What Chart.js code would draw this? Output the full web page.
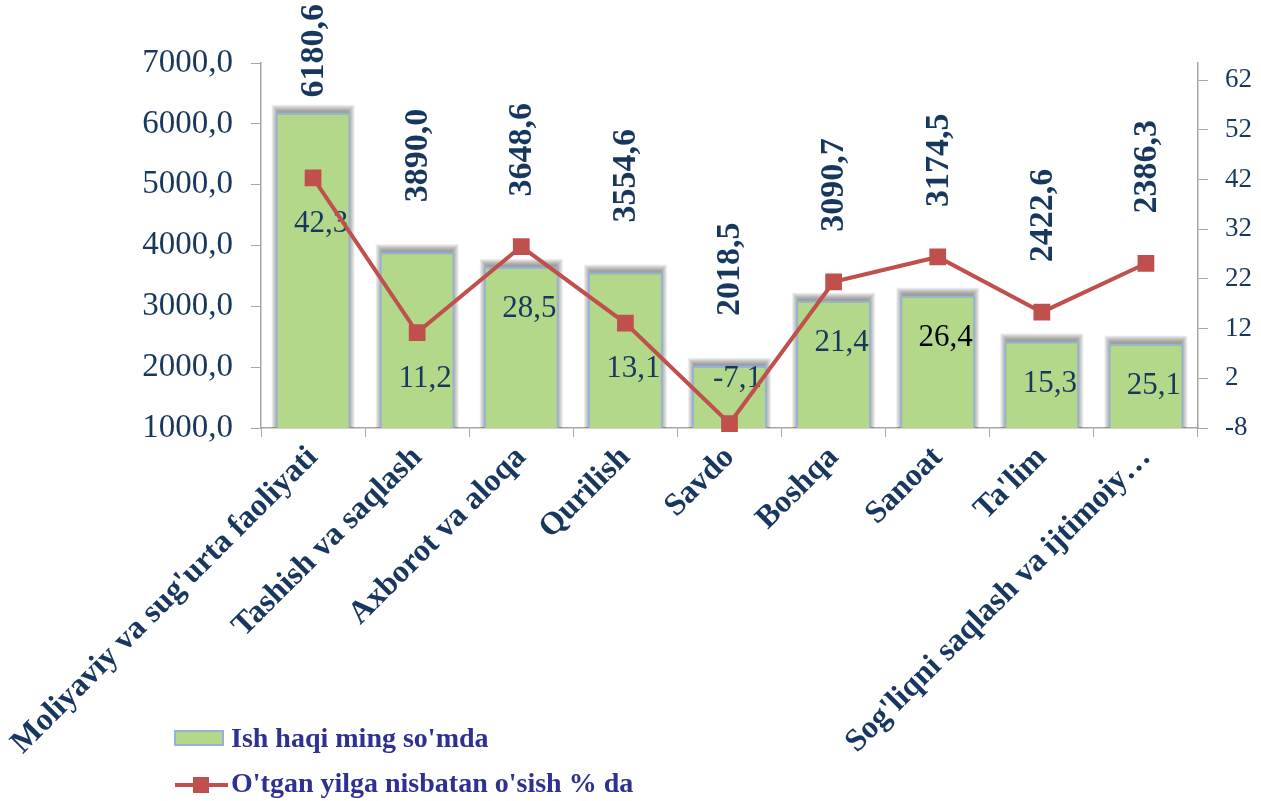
<!DOCTYPE html>
<html>
<head>
<meta charset="utf-8">
<script src="https://cdn.jsdelivr.net/npm/chart.js@4/dist/chart.umd.min.js"></script>
<style>
  html, body { margin: 0; padding: 0; background: #fff; }
  #wrap { width: 1261px; height: 801px; position: relative; }
</style>
</head>
<body>
<div id="wrap"><canvas id="wageChart"></canvas></div>
<script>
// wage by sector (bars, left axis) + growth vs last year (line, right axis)
const categories = [
  "Moliyaviy va sug'urta faoliyati",
  "Tashish va saqlash",
  "Axborot va aloqa",
  "Qurilish",
  "Savdo",
  "Boshqa",
  "Sanoat",
  "Ta'lim",
  "Sog'liqni saqlash va ijtimoiy…"
];
const wages = [6180.6, 3890.0, 3648.6, 3554.6, 2018.5, 3090.7, 3174.5, 2422.6, 2386.3];
const growth = [42.3, 11.2, 28.5, 13.1, -7.1, 21.4, 26.4, 15.3, 25.1];
const leftTicks = [1000, 2000, 3000, 4000, 5000, 6000, 7000];
const rightTicks = [-8, 2, 12, 22, 32, 42, 52, 62];
const barLabel = 'Ish haqi ming so\'mda';
const lineLabel = 'O\'tgan yilga nisbatan o\'sish % da';

const SERIF = '"Liberation Serif", "Times New Roman", serif';
const NAVY = '#17375E';
const GREEN = '#B3D88A';
const BAR_EDGE = '#95B3D7';
const RED = '#C0504D';
const AXIS = '#A6A6A6';

const fmt = v => v.toFixed(1).replace('.', ',');

(function () {
  // fake blurred shadow behind the bars (stacked translucent rects)
  const barShadow = {
    id: 'barShadow',
    beforeDatasetDraw(chart, args) {
      if (args.index !== 0) return;
      const ctx = chart.ctx;
      const area = chart.chartArea;
      ctx.save();
      ctx.beginPath();
      ctx.rect(area.left, 0, area.right - area.left, area.bottom);
      ctx.clip();
      ctx.fillStyle = 'rgba(60,60,60,0.09)';
      chart.getDatasetMeta(0).data.forEach(b => {
        const half = b.width / 2;
        for (let k = 1; k <= 7; k++) {
          ctx.fillRect(b.x - half - 1 - k + 4, b.y - 5 - k + 4, b.width + 2 * k - 6, b.base - b.y);
        }
      });
      ctx.restore();
    }
  };

  // value labels: rotated bar values on top, growth values near the points
  const valueLabels = {
    id: 'valueLabels',
    afterDatasetDraw(chart, args) {
      if (args.index !== 0) return;
      const ctx = chart.ctx;
      const bars = chart.getDatasetMeta(0).data;
      const pts = chart.getDatasetMeta(1).data;
      ctx.save();
      ctx.font = 'bold 34px ' + SERIF;
      ctx.fillStyle = NAVY;
      ctx.textAlign = 'left';
      ctx.textBaseline = 'middle';
      bars.forEach((b, i) => {
        const txt = fmt(wages[i]);
        const w = ctx.measureText(txt).width;
        let bottom = Math.min(b.y, pts[i].y) - 50;
        if (bottom - w < 4) bottom = 4 + w;
        ctx.save();
        ctx.translate(b.x + 1, bottom);
        ctx.rotate(-Math.PI / 2);
        ctx.fillText(txt, 0, 0);
        ctx.restore();
      });
      ctx.font = '31px ' + SERIF;
      ctx.textAlign = 'center';
      pts.forEach((p, i) => {
        const y = growth[i] < 0 ? p.y - 45 : Math.max(p.y + 46, bars[i].y + 42);
        ctx.fillStyle = i === 6 ? '#000' : NAVY;
        ctx.fillText(fmt(growth[i]), p.x + 8, y);
      });
      ctx.restore();
    }
  };

  // stacked legend in the lower left
  const stackLegend = {
    id: 'stackLegend',
    afterDraw(chart) {
      const ctx = chart.ctx;
      ctx.save();
      ctx.fillStyle = GREEN;
      ctx.strokeStyle = BAR_EDGE;
      ctx.lineWidth = 2;
      ctx.fillRect(175, 731, 48, 14);
      ctx.strokeRect(175, 731, 48, 14);
      ctx.strokeStyle = RED;
      ctx.lineWidth = 4;
      ctx.beginPath();
      ctx.moveTo(175, 785);
      ctx.lineTo(228, 785);
      ctx.stroke();
      ctx.fillStyle = RED;
      ctx.fillRect(193, 777, 16, 16);
      ctx.font = 'bold 28px ' + SERIF;
      ctx.fillStyle = '#2E3192';
      ctx.textBaseline = 'middle';
      ctx.fillText(chart.data.datasets[0].label, 231, 740);
      ctx.fillText(chart.data.datasets[1].label, 231, 785);
      ctx.restore();
    }
  };

  const ctx = document.getElementById('wageChart').getContext('2d');
  new Chart(ctx, {
    data: {
      labels: categories,
      datasets: [
        {
          type: 'bar',
          label: barLabel,
          data: wages,
          yAxisID: 'y',
          backgroundColor: GREEN,
          borderColor: BAR_EDGE,
          borderWidth: 2,
          barPercentage: 0.72,
          categoryPercentage: 1,
          order: 2
        },
        {
          type: 'line',
          label: lineLabel,
          data: growth,
          yAxisID: 'y1',
          borderColor: RED,
          backgroundColor: RED,
          borderWidth: 4,
          pointStyle: 'rect',
          pointRadius: 9,
          pointHoverRadius: 9,
          tension: 0,
          clip: false,
          order: 1
        }
      ]
    },
    options: {
      responsive: true,
      maintainAspectRatio: false,
      animation: false,
      layout: { padding: { top: 63, left: 0, right: 0, bottom: 0 } },
      plugins: {
        legend: { display: false },
        tooltip: { enabled: false }
      },
      scales: {
        x: {
          grid: { display: true, offset: true, drawOnChartArea: false, color: AXIS, tickLength: 9 },
          border: { color: AXIS, width: 1.5 },
          ticks: {
            maxRotation: 45,
            minRotation: 45,
            autoSkip: false,
            color: NAVY,
            padding: 2,
            font: { family: SERIF, size: 32, weight: 'bold' }
          },
          afterFit(scale) { scale.height = 373; }
        },
        y: {
          position: 'left',
          min: 1000,
          max: 7000,
          afterBuildTicks(scale) { scale.ticks = leftTicks.map(v => ({ value: v })); },
          grid: { drawOnChartArea: false, color: AXIS, tickLength: 10 },
          border: { color: AXIS, width: 1.5 },
          ticks: {
            color: NAVY,
            padding: 18,
            font: { family: SERIF, size: 33 },
            callback: v => fmt(v)
          },
          afterFit(scale) { scale.width = 261; }
        },
        y1: {
          position: 'right',
          min: -8,
          max: -8 + 70 * 365 / 348,
          afterBuildTicks(scale) { scale.ticks = rightTicks.map(v => ({ value: v })); },
          grid: { drawOnChartArea: false, color: AXIS, tickLength: 10 },
          border: { color: AXIS, width: 1.5 },
          ticks: {
            color: NAVY,
            padding: 17,
            font: { family: SERIF, size: 27 },
            callback: v => String(v)
          },
          afterFit(scale) { scale.width = 63; }
        }
      }
    },
    plugins: [barShadow, valueLabels, stackLegend]
  });
})();
</script>
</body>
</html>
